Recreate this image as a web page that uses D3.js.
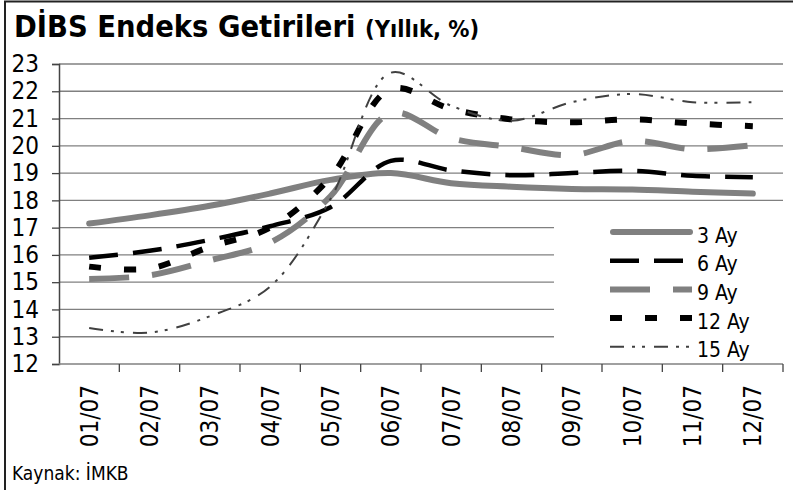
<!DOCTYPE html>
<html>
<head>
  <meta charset="utf-8">
  <title>DIBS Endeks Getirileri</title>
  <script src="https://d3js.org/d3.v7.min.js"></script>
  <style>
    body { margin: 0; background: #fff; }
    text { font-family: "DejaVu Sans Condensed", "DejaVu Sans", sans-serif; font-stretch: condensed; }
  </style>
</head>
<body>
<script type="text/javascript">

  // data
  var months = ["01/07", "02/07", "03/07", "04/07", "05/07", "06/07",
                "07/07", "08/07", "09/07", "10/07", "11/07", "12/07"];
  var seriesNames = ["3 Ay", "6 Ay", "9 Ay", "12 Ay", "15 Ay"];
  var ay3  = [17.15, 17.45, 17.8, 18.25, 18.75, 19.0, 18.63, 18.5, 18.42, 18.4, 18.32, 18.25];
  var ay6  = [15.9, 16.15, 16.55, 17.05, 17.75, 19.45, 19.1, 18.92, 19.0, 19.08, 18.9, 18.85];
  var ay9  = [15.12, 15.25, 15.8, 16.45, 18.15, 21.2, 20.28, 19.95, 19.66, 20.18, 19.88, 20.02];
  var ay12 = [15.57, 15.5, 16.3, 17.0, 18.85, 22.08, 21.35, 20.97, 20.86, 20.97, 20.82, 20.72];
  var ay15 = [13.32, 13.15, 13.75, 14.84, 18.05, 22.68, 21.47, 20.92, 21.6, 21.9, 21.6, 21.6];
  var yTicks = [12, 13, 14, 15, 16, 17, 18, 19, 20, 21, 22, 23];

  var w = 793, h = 490;
  var plotLeft = 59, plotRight = 783, plotTop = 64, plotBottom = 364;

  // line styles per series
  var styles = [
    {color: "#808080", width: 6,   dash: null,            cap: "round"},
    {color: "#000000", width: 4.5, dash: "29,15",         cap: "butt"},
    {color: "#808080", width: 6,   dash: "40,23",         cap: "butt"},
    {color: "#000000", width: 6,   dash: "12,23",         cap: "butt"},
    {color: "#404040", width: 2,   dash: "14,8,3,7,3,9",  cap: "butt"}
  ];
  var allValues = [ay3, ay6, ay9, ay12, ay15];

  var svg = d3.select("body").append("svg")
      .attr("width", w)
      .attr("height", h);

  // frame (only top and left edges visible)
  svg.append("rect")
      .attr("x", 5).attr("y", 1.5)
      .attr("width", 820).attr("height", 520)
      .attr("fill", "none")
      .attr("stroke", "#222")
      .attr("stroke-width", 2);

  // title
  var title = svg.append("text")
      .attr("x", 14).attr("y", 37)
      .attr("font-weight", "bold")
      .attr("font-size", 30.5)
      .text("DİBS Endeks Getirileri ");
  title.append("tspan")
      .attr("font-size", 23.5)
      .text("(Yıllık, %)");

  var xScale = d3.scaleBand()
      .domain(months)
      .range([plotLeft, plotRight]);

  var yScale = d3.scaleLinear()
      .domain([12, 23])
      .range([plotBottom, plotTop]);

  // gridlines
  svg.append("g")
      .selectAll("line")
      .data(yTicks.slice(1))
      .enter()
      .append("line")
      .attr("x1", plotLeft).attr("x2", plotRight)
      .attr("y1", function(d){ return yScale(d); })
      .attr("y2", function(d){ return yScale(d); })
      .attr("stroke", "#808080")
      .attr("stroke-width", 1.3);

  // y axis
  var yAxis = svg.append("g")
      .attr("transform", "translate(" + plotLeft + ",0)")
      .call(d3.axisLeft(yScale).tickValues(yTicks).tickSize(7).tickPadding(13).tickFormat(d3.format("d")));
  yAxis.select(".domain").attr("stroke", "#444").attr("stroke-width", 1.5);
  yAxis.selectAll(".tick line").attr("stroke", "#444").attr("stroke-width", 1.3);
  yAxis.selectAll(".tick text")
      .attr("font-size", 24)
      .attr("fill", "#000");
  yAxis.attr("font-family", null);

  // x axis: ticks at category boundaries
  var xAxis = svg.append("g")
      .attr("transform", "translate(0," + plotBottom + ")");
  xAxis.append("line")
      .attr("x1", plotLeft).attr("x2", plotRight)
      .attr("stroke", "#808080").attr("stroke-width", 1.5);
  xAxis.selectAll(".bt")
      .data(months)
      .enter()
      .append("line")
      .attr("class", "bt")
      .attr("x1", function(d){ return xScale(d) + xScale.bandwidth(); })
      .attr("x2", function(d){ return xScale(d) + xScale.bandwidth(); })
      .attr("y1", 0).attr("y2", 8)
      .attr("stroke", "#444").attr("stroke-width", 1.3);
  xAxis.selectAll("text")
      .data(months)
      .enter()
      .append("text")
      .attr("transform", function(d){
        return "translate(" + (xScale(d) + xScale.bandwidth() / 2) + ",21) rotate(-90)";
      })
      .attr("text-anchor", "end")
      .attr("dy", "0.36em")
      .attr("font-size", 24)
      .text(function(d){ return d; });

  // series lines (smoothed like the original)
  var line = d3.line()
      .x(function(d, i){ return xScale(months[i]) + xScale.bandwidth() / 2; })
      .y(function(d){ return yScale(d); })
      .curve(d3.curveCatmullRom.alpha(0.5));

  svg.append("g")
      .selectAll("path")
      .data(allValues)
      .enter()
      .append("path")
      .attr("d", function(d){ return line(d); })
      .attr("fill", "none")
      .attr("stroke", function(d, i){ return styles[i].color; })
      .attr("stroke-width", function(d, i){ return styles[i].width; })
      .attr("stroke-dasharray", function(d, i){ return styles[i].dash; })
      .attr("stroke-linecap", function(d, i){ return styles[i].cap; });

  // legend
  var legend = svg.append("g");
  legend.append("rect")
      .attr("x", 554).attr("y", 212)
      .attr("width", 236).attr("height", 150)
      .attr("fill", "#fff");
  var rows = legend.selectAll(".row")
      .data(seriesNames)
      .enter()
      .append("g")
      .attr("class", "row")
      .attr("transform", function(d, i){ return "translate(0," + (235 + i * 28.7) + ")"; });
  rows.append("line")
      .attr("x1", function(d, i){ return styles[i].cap === "round" ? 613 : 610; })
      .attr("x2", function(d, i){ return styles[i].cap === "round" ? 690 : 692; })
      .attr("y1", -3).attr("y2", -3)
      .attr("stroke", function(d, i){ return styles[i].color; })
      .attr("stroke-width", function(d, i){ return styles[i].width; })
      .attr("stroke-dasharray", function(d, i){ return styles[i].dash; })
      .attr("stroke-linecap", function(d, i){ return styles[i].cap; });
  rows.append("text")
      .attr("x", 697)
      .attr("dy", "0.36em")
      .attr("font-size", 21)
      .text(function(d){ return d; });

  // source
  svg.append("text")
      .attr("x", 12).attr("y", 480)
      .attr("font-size", 19)
      .text("Kaynak: İMKB");

</script>
</body>
</html>
